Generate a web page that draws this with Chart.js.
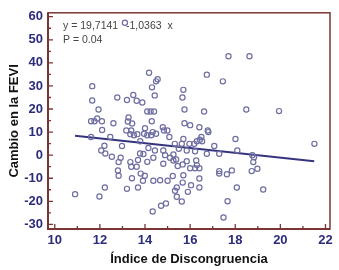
<!DOCTYPE html>
<html>
<head>
<meta charset="utf-8">
<script src="https://cdn.jsdelivr.net/npm/chart.js@4.4.1/dist/chart.umd.min.js"></script>
<style>
html, body { margin: 0; padding: 0; background: #fff; }
</style>
</head>
<body>
<canvas id="feviChart" width="339" height="270"></canvas>
<script>
// Índice de Discongruencia (x) / Cambio en la FEVI (y)
const indice = [
  11.66, 11.66, 11.94, 12.77, 13.48, 13.2, 13.63, 13.88, 11.61, 11.88, 11.76, 12.09, 12.6, 12.1,
  13.27, 13.24, 13.43, 13.17, 13.39, 13.35, 13.66, 13.51, 11.61, 12.46, 13.79, 12.98, 12.2, 12.06,
  14.18, 14.49, 14.56, 14.31, 14.43, 16.74, 17.45, 15.7, 15.66, 14.1, 14.25, 14.4, 15.75, 16.62,
  14.3, 15.75, 16.0, 16.41, 14.0, 13.96, 14.1, 14.34, 14.49, 14.27, 14.79, 14.84, 14.99, 16.78,
  16.81, 15.08, 15.7, 16.5, 16.43, 16.3, 16.53, 18.01, 15.5, 17.07,
  12.24, 12.53, 12.92, 12.83, 13.35, 13.69, 13.78, 13.93, 13.39, 13.63, 12.8, 12.83, 13.42, 13.81,
  13.99, 13.91, 13.2, 13.69, 12.22, 10.9, 11.98, 14.1,
  14.15, 14.44, 14.37, 14.81, 14.89, 15.11, 15.26, 15.38, 15.26, 15.32, 15.63, 15.97, 16.18, 15.85,
  16.22, 16.74, 17.29, 14.81, 15.67, 15.45, 15.85, 16.27, 16.3, 16.22, 16.41, 16.0, 14.37, 14.67,
  15.0, 15.23, 15.7, 15.67, 16.41, 16.41, 16.04, 15.41, 15.33, 15.41, 15.63, 15.9, 14.93, 14.71,
  14.34, 17.29, 17.29, 17.63, 17.85, 18.07, 17.66, 17.48,
  18.49, 19.94, 18.09, 21.51, 18.76, 18.83, 18.8, 18.73, 18.98, 19.24, 17.7, 18.63, 13.11
];
const cambio = [
  29.9, 23.7, 19.8, 25.0, 26.1, 23.9, 23.6, 22.8, 14.7, 15.9, 14.7, 14.7, 13.8, 10.9,
  16.3, 14.6, 13.7, 10.7, 10.7, 9.1, 9.1, 8.6, 7.9, 7.9, 6.0, 4.0, 4.1, 2.0,
  35.7, 32.0, 32.9, 29.4, 25.9, 34.9, 32.0, 28.3, 25.0, 18.9, 18.9, 18.9, 19.8, 18.9,
  14.7, 13.8, 13.0, 12.1, 11.7, 9.3, 8.6, 10.0, 9.3, 8.6, 12.1, 10.7, 10.7, 10.7,
  10.0, 7.9, 7.0, 7.9, 6.7, 6.0, 6.0, 7.0, 2.8, 4.0,
  0.7, -0.7, -1.1, -3.0, -3.0, -2.1, 0.7, 0.5, -5.0, -5.0, -6.6, -8.9, -10.0, -8.0,
  -8.9, -11.1, -14.6, -14.0, -14.0, -16.9, -17.9, -2.9,
  3.1, 2.0, -1.1, 2.0, 0, -1.1, 0.3, -1.9, -2.3, 4.9, 4.9, 4.9, 4.9, 2.0,
  1.7, 0.6, 0.6, -3.7, -4.0, -4.7, -2.6, -2.3, -4.3, -5.7, -5.7, -5.7, -11.1, -10.9,
  -11.1, -9.0, -8.7, -11.9, -10.1, -14.0, -13.0, -14.0, -15.4, -18.0, -20.1, -15.9, -20.9, -21.9,
  -24.4, -6.9, -8.0, -8.3, -6.6, -14.0, -20.0, -27.0,
  19.8, 19.1, 2.0, 4.9, 0, -0.9, -3.0, -6.9, -5.9, -14.9, 42.9, 42.9, 57.4
];

// regression line ends as drawn
const lineX = [10.9, 21.5];
const lineY = [8.4, -2.6];

const xTicks = [10, 12, 14, 16, 18, 20, 22];
const xMinor = [11, 13, 15, 17, 19, 21];
const yTicks = [-30, -20, -10, 0, 10, 20, 30, 40, 50, 60];
const yMinor = [-25, -15, -5, 5, 15, 25, 35, 45, 55];

const frameColor = '#7a3434';
const tickColor = '#2c2c7c';

Chart.defaults.font.family = '"Liberation Sans", Arial, sans-serif';

const framePlugin = {
  id: 'frame',
  beforeDatasetsDraw(chart) {
    const { ctx, chartArea: a, scales } = chart;
    ctx.save();
    ctx.strokeStyle = frameColor;
    ctx.lineWidth = 1.5;
    ctx.strokeRect(a.left, a.top, a.right - a.left, a.bottom - a.top);
    ctx.lineWidth = 2;
    ctx.beginPath();
    ctx.moveTo(a.left, a.top);
    ctx.lineTo(a.left, a.bottom);
    ctx.lineTo(a.right, a.bottom);
    ctx.stroke();
    ctx.lineWidth = 1.3;
    ctx.beginPath();
    xTicks.forEach(v => { const px = scales.x.getPixelForValue(v); ctx.moveTo(px, a.bottom); ctx.lineTo(px, a.bottom - 5); });
    xMinor.forEach(v => { const px = scales.x.getPixelForValue(v); ctx.moveTo(px, a.bottom); ctx.lineTo(px, a.bottom - 3); });
    yTicks.forEach(v => { const py = scales.y.getPixelForValue(v); ctx.moveTo(a.left, py); ctx.lineTo(a.left + 5, py); });
    yMinor.forEach(v => { const py = scales.y.getPixelForValue(v); ctx.moveTo(a.left, py); ctx.lineTo(a.left + 3, py); });
    ctx.stroke();
    ctx.restore();
  },
  afterDraw(chart) {
    const { ctx } = chart;
    ctx.save();
    ctx.fillStyle = '#444';
    ctx.font = '10.5px "Liberation Sans", Arial, sans-serif';
    ctx.textBaseline = 'alphabetic';
    ctx.fillText('y = 19,7141', 63, 29);
    ctx.fillText('-1,0363  x', 126, 29);
    ctx.fillText('P = 0.04', 63, 43);
    ctx.restore();
  }
};

new Chart(document.getElementById('feviChart'), {
  type: 'scatter',
  data: {
    datasets: [{
      label: 'Pacientes',
      data: indice.map((x, i) => ({ x: x, y: cambio[i] })),
      pointStyle: 'circle',
      pointRadius: 2.6,
      borderWidth: 1.2,
      borderColor: '#6e6ea2',
      backgroundColor: 'rgba(255,255,255,0)'
    }, {
      type: 'line',
      label: 'Regresión',
      data: lineX.map((x, i) => ({ x: x, y: lineY[i] })),
      borderColor: '#35357f',
      borderWidth: 2,
      pointRadius: 0,
      fill: false
    }]
  },
  options: {
    responsive: false,
    animation: false,
    layout: { padding: { left: 0, right: 9, top: 10, bottom: 0 } },
    plugins: { legend: { display: false }, tooltip: { enabled: false } },
    scales: {
      x: {
        type: 'linear',
        min: 9.7,
        max: 22.2,
        afterBuildTicks: s => { s.ticks = xTicks.map(v => ({ value: v })); },
        afterFit: s => { s.height = 41; },
        grid: { display: false, drawTicks: false },
        border: { display: false },
        ticks: { color: tickColor, font: { size: 13, weight: 'bold' }, padding: 4, maxRotation: 0 },
        title: { display: true, text: 'Índice de Discongruencia', color: '#111', font: { size: 13, weight: 'bold' }, padding: { top: 0, bottom: 3 } }
      },
      y: {
        type: 'linear',
        min: -32,
        max: 61.7,
        afterBuildTicks: s => { s.ticks = yTicks.map(v => ({ value: v })); },
        afterFit: s => { s.width = 48; },
        grid: { display: false, drawTicks: false },
        border: { display: false },
        ticks: { color: tickColor, font: { size: 13, weight: 'bold' }, padding: 5 },
        title: { display: true, text: 'Cambio en la FEVI', color: '#111', font: { size: 13, weight: 'bold' }, padding: { top: 7, bottom: 0 } }
      }
    }
  },
  plugins: [framePlugin]
});
</script>
</body>
</html>
